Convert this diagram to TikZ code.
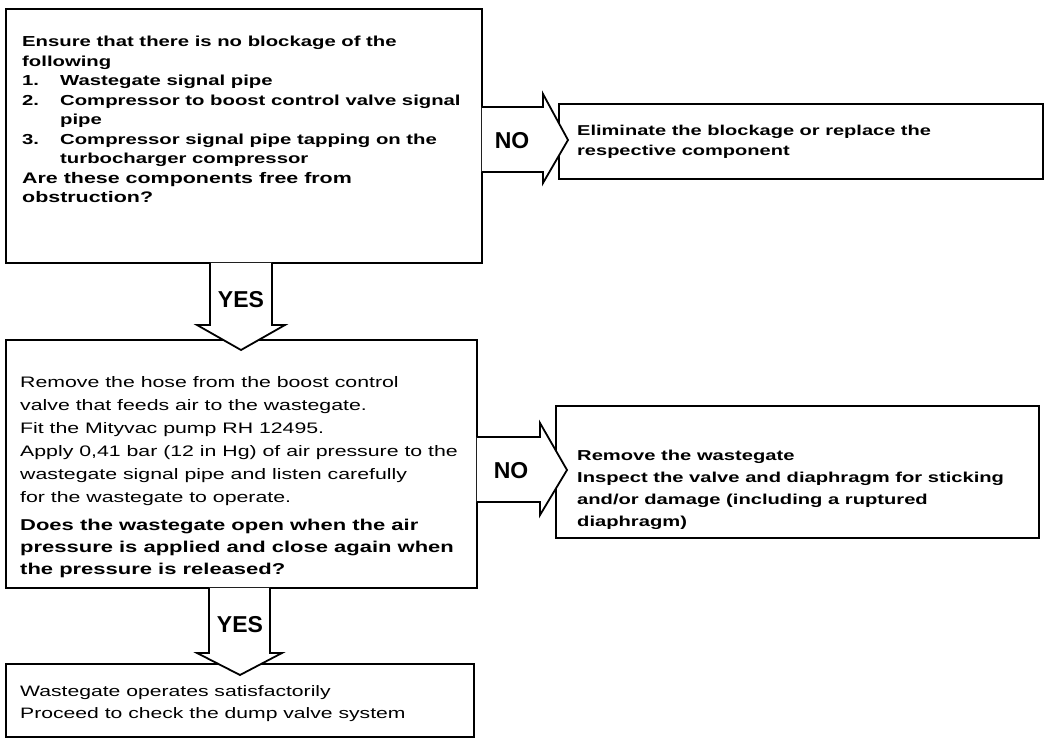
\documentclass[tikz,border=0pt]{standalone}
\usepackage{fontspec}
\usepackage{tikz}
\usetikzlibrary{calc}
\newfontfamily\manualfont[FakeStretch=1.4]{Liberation Sans}
\newfontfamily\answerfont{Liberation Sans}
\newcommand\itemno[1]{\makebox[38pt][l]{#1}}
\tikzset{
  box/.style={draw, line width=1.8pt, inner sep=0pt, anchor=north west},
  blockarrow/.style={draw, fill=white, line width=1.8pt, line join=miter},
  boxtext/.style={anchor=north west, inner sep=0pt, align=left},
  answer/.style={font=\answerfont\bfseries\fontsize{23}{23}\selectfont, inner sep=0pt}
}

\begin{document}
\begin{tikzpicture}[x=1pt, y=-1pt]
  \useasboundingbox (0,0) rectangle (1044,743);
  \node[box, minimum width=476pt, minimum height=254pt] (q1) at (5,8) {};
  \node[box, minimum width=484pt, minimum height=75pt] (fix1) at (558,103) {};
  \node[box, minimum width=471pt, minimum height=248pt] (q2) at (5,339) {};
  \node[box, minimum width=483pt, minimum height=132pt] (fix2) at (555,405) {};
  \node[box, minimum width=468pt, minimum height=73pt] (done) at (5,663) {};

  \draw[blockarrow] ($(210,0 |- q1.south)+(0,-1)$) -- (210,325) -- (197,325)
    -- ($(241,0 |- q2.north)+(0,11)$) -- (285,325) -- (272,325) -- ($(272,0 |- q1.south)+(0,-1)$);
  \draw[blockarrow] ($(q1.east |- 0,107)+(-1,0)$) -- (543,107) -- (543,94)
    -- ($(fix1.west |- 0,140)+(10,0)$) -- (543,183) -- (543,172) -- ($(q1.east |- 0,172)+(-1,0)$);
  \draw[blockarrow] ($(209,0 |- q2.south)+(0,-1)$) -- (209,653) -- (197,653)
    -- ($(240,0 |- done.north)+(0,12)$) -- (282,653) -- (270,653) -- ($(270,0 |- q2.south)+(0,-1)$);
  \draw[blockarrow] ($(q2.east |- 0,437)+(-1,0)$) -- (540,437) -- (540,423)
    -- ($(fix2.west |- 0,470)+(12,0)$) -- (540,515) -- (540,502) -- ($(q2.east |- 0,502)+(-1,0)$);

  \node[answer] (yes1) at (241,300) {YES};
  \node[answer] (no1) at (512,141) {NO};
  \node[answer] (yes2) at (240,625) {YES};
  \node[answer] (no2) at (511,471) {NO};

  \node[boxtext, font=\manualfont\bfseries\fontsize{14.5}{19.5}\selectfont] (q1txt) at (22,36)
    {Ensure that there is no blockage of the\\
     following\\
     \itemno{1.}Wastegate signal pipe\\
     \itemno{2.}Compressor to boost control valve signal\\
     \itemno{}pipe\\
     \itemno{3.}Compressor signal pipe tapping on the\\
     \itemno{}turbocharger compressor\\
     {\fontsize{15.3}{19.5}\selectfont Are these components free from}\\
     {\fontsize{15.3}{19.5}\selectfont obstruction?}};
  \node[boxtext, font=\manualfont\bfseries\fontsize{14.3}{19.5}\selectfont] (fix1txt) at (577,125)
    {Eliminate the blockage or replace the\\
     respective component};
  \node[boxtext, font=\manualfont\fontsize{15.2}{23}\selectfont] (q2txt) at (20,376)
    {Remove the hose from the boost control\\
     valve that feeds air to the wastegate.\\
     Fit the Mityvac pump RH 12495.\\
     Apply 0,41 bar (12 in Hg) of air pressure to the\\
     wastegate signal pipe and listen carefully\\
     for the wastegate to operate.};
  \node[boxtext, font=\manualfont\bfseries\fontsize{15.7}{22}\selectfont] (q2ask) at (20,519)
    {Does the wastegate open when the air\\
     pressure is applied and close again when\\
     the pressure is released?};
  \node[boxtext, font=\manualfont\bfseries\fontsize{14.4}{22}\selectfont] (fix2txt) at (577,450)
    {Remove the wastegate\\
     Inspect the valve and diaphragm for sticking\\
     and/or damage (including a ruptured\\
     diaphragm)};
  \node[boxtext, font=\manualfont\fontsize{15.1}{22}\selectfont] (donetxt) at (20,685)
    {Wastegate operates satisfactorily\\
     Proceed to check the dump valve system};
\end{tikzpicture}
\end{document}
